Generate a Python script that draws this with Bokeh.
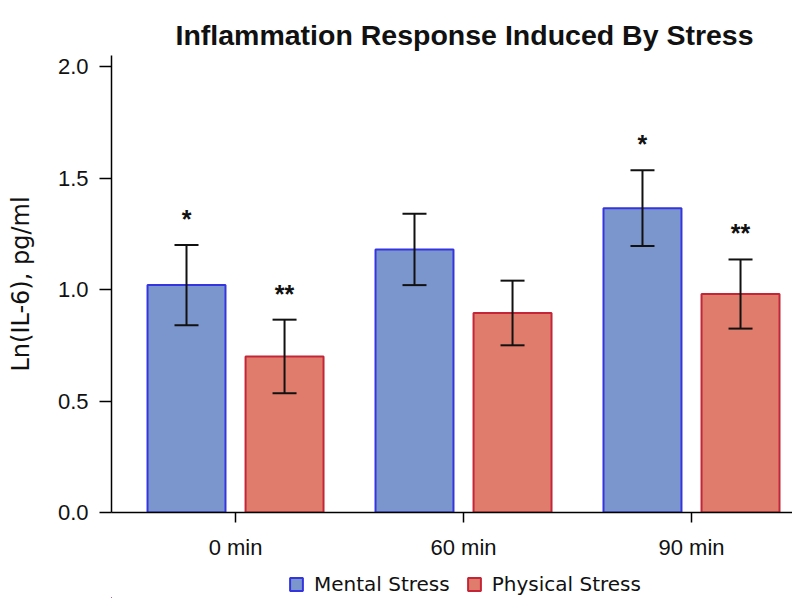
from bokeh.plotting import figure
from bokeh.layouts import column
from bokeh.models import (ColumnDataSource, Whisker, FixedTicker, Range1d, Legend,
                          LegendItem, TeeHead, NumeralTickFormatter)
from bokeh.core.properties import value
from bokeh.embed import file_html
from bokeh.resources import INLINE

# ---- data ----
times = ["0 min", "60 min", "90 min"]
series = ["Mental Stress", "Physical Stress"]
mental_mean = [1.02, 1.18, 1.365]
mental_err = [0.18, 0.16, 0.17]
physical_mean = [0.70, 0.895, 0.98]
physical_err = [0.165, 0.145, 0.155]
mental_sig = ["*", "", "*"]
physical_sig = ["**", "", "**"]
y_ticks = [0.0, 0.5, 1.0, 1.5, 2.0]

# ---- styling ----
BLUE_FILL, BLUE_LINE = "#7B96CC", "#3535E0"
RED_FILL, RED_LINE = "#E07C6C", "#C42638"
BAR_W = 0.342
DODGE = 0.215

centers = [i + 0.5 for i in range(len(times))]

def make_source(means, errs, sig, off):
    return ColumnDataSource(dict(
        x=[c + off for c in centers],
        top=means,
        upper=[m + e for m, e in zip(means, errs)],
        lower=[m - e for m, e in zip(means, errs)],
        sig=sig,
    ))

src_m = make_source(mental_mean, mental_err, mental_sig, -DODGE)
src_p = make_source(physical_mean, physical_err, physical_sig, DODGE)

p = figure(width=792, height=570, output_backend="svg", toolbar_location=None,
           x_range=Range1d(-0.044, 2.943), y_range=Range1d(0, 2.05),
           min_border_left=111, min_border_right=0, min_border_top=55,
           min_border_bottom=58)

p.title.text = "Inflammation Response Induced By Stress"
p.title.align = "left"
p.title.offset = 64
p.title.text_font = "Liberation Sans"
p.title.text_font_size = "28.5px"
p.title.text_font_style = "bold"
p.title.text_color = "#111111"

bar_style_m = dict(fill_color=BLUE_FILL, line_color=BLUE_LINE, line_width=2)
bar_style_p = dict(fill_color=RED_FILL, line_color=RED_LINE, line_width=2)

p.vbar(x="x", top="top", width=BAR_W, source=src_m, **bar_style_m)
p.vbar(x="x", top="top", width=BAR_W, source=src_p, **bar_style_p)

for src in (src_m, src_p):
    w = Whisker(base="x", upper="upper", lower="lower", source=src, level="overlay",
                line_color="#111111", line_width=2,
                upper_head=TeeHead(size=24, line_width=2, line_color="#111111"),
                lower_head=TeeHead(size=24, line_width=2, line_color="#111111"))
    p.add_layout(w)
    p.text(x="x", y="upper", text="sig", source=src, text_align="center",
           text_baseline="alphabetic", y_offset=-26, text_font_size="25px",
           text_font=value("Liberation Sans"), text_font_style="bold",
           text_color="#111111")

# axes
p.xgrid.visible = False
p.ygrid.visible = False
p.outline_line_color = None

p.xaxis.ticker = FixedTicker(ticks=centers)
p.xaxis.major_label_overrides = {c: t for c, t in zip(centers, times)}
p.xaxis.minor_tick_line_color = None
p.xaxis.major_tick_out = 10
p.xaxis.major_tick_in = 0
p.xaxis.major_label_standoff = 12
p.xaxis.major_label_text_font = "Liberation Sans"
p.xaxis.major_label_text_font_size = "22px"
p.xaxis.major_label_text_color = "#111111"
p.xaxis.axis_line_width = 1.5
p.xaxis.major_tick_line_width = 1.5

p.yaxis.ticker = FixedTicker(ticks=y_ticks)
p.yaxis.formatter = NumeralTickFormatter(format="0.0")
p.yaxis.minor_tick_line_color = None
p.yaxis.major_tick_out = 12
p.yaxis.major_tick_in = 0
p.yaxis.major_label_standoff = 11
p.yaxis.major_label_text_font = "Liberation Sans"
p.yaxis.major_label_text_font_size = "22px"
p.yaxis.major_label_text_color = "#111111"
p.yaxis.axis_label = "Ln(IL-6), pg/ml"
p.yaxis.axis_label_text_font = "DejaVu Sans"
p.yaxis.axis_label_text_font_size = "24px"
p.yaxis.axis_label_text_font_style = "normal"
p.yaxis.axis_label_text_color = "#111111"
p.yaxis.axis_label_standoff = 20
p.yaxis.axis_line_width = 1.5
p.yaxis.major_tick_line_width = 1.5

# ---- legend strip below the chart (bars kept far out of view; legend only) ----
lf = figure(width=792, height=28, output_backend="svg", toolbar_location=None,
            x_range=Range1d(100, 101), y_range=Range1d(100, 101),
            x_axis_location=None, y_axis_location=None,
            min_border=0, min_border_left=0, min_border_right=0,
            min_border_top=0, min_border_bottom=0)
lf.xgrid.visible = False
lf.ygrid.visible = False
lf.outline_line_color = None
lr_m = lf.vbar(x="x", top="top", width=BAR_W, source=src_m, **bar_style_m)
lr_p = lf.vbar(x="x", top="top", width=BAR_W, source=src_p, **bar_style_p)

legend = Legend(items=[LegendItem(label=series[0], renderers=[lr_m], index=0),
                       LegendItem(label=series[1], renderers=[lr_p], index=0)],
                orientation="horizontal", location=(175, 0),
                label_text_font="DejaVu Sans", label_text_font_size="20px",
                label_text_color="#111111",
                glyph_width=16, glyph_height=16, spacing=16, padding=2, margin=0,
                border_line_alpha=0, background_fill_alpha=0, label_standoff=10)
lf.add_layout(legend)

open("out.html", "w").write(file_html(column(p, lf, spacing=0), INLINE))
